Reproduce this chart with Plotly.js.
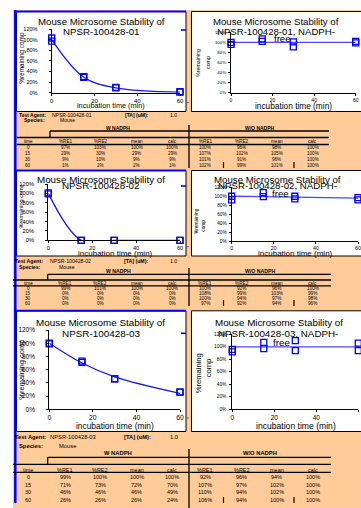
<!DOCTYPE html>
<html>
<head>
<meta charset="utf-8">
<script src="https://cdn.plot.ly/plotly-3.0.1.min.js"></script>
<style>html,body{margin:0;padding:0;background:#fff;}#chart{width:361px;height:508px;}</style>
</head>
<body>
<div id="chart"></div>
<script>
// ---------------- DATA ----------------
const times = [0, 15, 30, 60];
const agents = ["NPSR-100428-01", "NPSR-100428-02", "NPSR-100428-03"];
const speciesName = "Mouse";
const concText = "1.0";
const chartTitleLine = "Mouse Microsome Stability of";
const freeSuffix = ", NADPH-";
const freeWord = "free";
const xTitle = "incubation time (min)";
const yTitle = "%remaining comp";
const xTicks = [0, 20, 40, 60];
const yTicks = [0, 20, 40, 60, 80, 100, 120];
const yTickText = ["0%", "20%", "40%", "60%", "80%", "100%", "120%"];
const colHeaders = ["time", "%RE1", "%RE2", "mean", "calc", "%RE1", "%RE2", "mean", "calc"];
const groupW = "W NADPH";
const groupWO = "W/O NADPH";

// compound 01
const w01_re1 = [97, 29, 9, 1];
const w01_re2 = [103, 30, 10, 2];
const w01_mean = [100, 29, 9, 2];
const w01_calc = [100, 29, 9, 1];
const wo01_re1 = [100, 107, 101, 102];
const wo01_re2 = [96, 102, 91, 99];
const wo01_mean = [98, 105, 96, 101];
const wo01_calc = [100, 100, 100, 100];
// compound 02
const w02_re1 = [99, 0, 0, 0];
const w02_re2 = [101, 0, 0, 0];
const w02_mean = [100, 0, 0, 0];
const w02_calc = [100, 0, 0, 0];
const wo02_re1 = [100, 108, 100, 97];
const wo02_re2 = [92, 99, 94, 92];
const wo02_mean = [96, 103, 97, 94];
const wo02_calc = [100, 99, 98, 96];
// compound 03
const w03_re1 = [99, 71, 46, 26];
const w03_re2 = [100, 73, 46, 26];
const w03_mean = [100, 72, 46, 26];
const w03_calc = [100, 70, 49, 24];
const wo03_re1 = [92, 107, 110, 106];
const wo03_re2 = [96, 97, 94, 94];
const wo03_mean = [94, 102, 102, 100];
const wo03_calc = [100, 100, 100, 100];

// ---------------- LAYOUT HELPERS ----------------
const W = 361, H = 508;
const P = x => x / W;
const Q = y => 1 - y / H;
const FONT = "Liberation Sans, Arial, sans-serif";
const PEACH = "#FFCC99";
const BLUE = "#0000FF";

function ann(text, x, y, size, extra) {
  return Object.assign({
    text: text, x: P(x), y: Q(y), xref: "paper", yref: "paper",
    showarrow: false, xanchor: "center", yanchor: "middle",
    font: { family: FONT, size: size, color: "#000" }
  }, extra || {});
}
function line(x0, y0, x1, y1, color, width) {
  return { type: "line", xref: "paper", yref: "paper",
    x0: P(x0), y0: Q(y0), x1: P(x1), y1: Q(y1),
    line: { color: color, width: width }, layer: "above" };
}
function rect(x0, y0, x1, y1, fill, lc, lw, layer) {
  return { type: "rect", xref: "paper", yref: "paper",
    x0: P(x0), y0: Q(y0), x1: P(x1), y1: Q(y1),
    fillcolor: fill, line: { color: lc, width: lw }, layer: layer || "below" };
}

// chart specs: data reference + placement
const charts = [
  { re1: w01_re1, re2: w01_re2, fit: w01_calc, lc: "#1515ff",
    x0: 51.7, x60: 180, y0: 92.7, y120: 29, xfs: 6, yfs: 5.6, ystand: 10,
    titles: [[chartTitleLine, 101.7, 21.7], [agents[0], 100.8, 31]], tfs: 9.7,
    xt: [111.3, 106, 7.3], yt: [[yTitle, 21.7, 58]], ytfs: 6.4 },
  { re1: wo01_re1, re2: wo01_re2, fit: wo01_calc, lc: "#4848ff",
    x0: 231, x60: 355.7, y0: 92.7, y120: 32.3, xfs: 5, yfs: 4.4, ystand: 1,
    titles: [[chartTitleLine, 276.3, 21.7], [agents[0] + freeSuffix, 275.8, 31.3], [freeWord, 282.7, 38.3]], tfs: 9.6,
    xt: [293.3, 106, 8.3], yt: [["%remaining", 198, 63], ["comp", 208, 63]], ytfs: 5.3 },
  { re1: w02_re1, re2: w02_re2, fit: w02_calc, lc: "#1515ff",
    x0: 48.3, x60: 180, y0: 240.3, y120: 184, xfs: 5.6, yfs: 5.8, ystand: 10,
    titles: [[chartTitleLine, 100.5, 179], [agents[1], 100, 185.7]], tfs: 9.8,
    xt: [115, 253.3, 8.0], yt: [[yTitle, 20.7, 206.7]], ytfs: 5.5 },
  { re1: wo02_re1, re2: wo02_re2, fit: wo02_calc, lc: "#4848ff",
    x0: 231.7, x60: 358, y0: 241, y120: 187.3, xfs: 5.3, yfs: 4.8, ystand: 1,
    titles: [[chartTitleLine, 277.5, 179], [agents[1] + freeSuffix, 277, 185.7], [freeWord, 280, 193.3]], tfs: 9.7,
    xt: [295, 253.3, 8.0], yt: [["%remaining", 196, 221], ["comp", 202.7, 226]], ytfs: 4.8 },
  { re1: w03_re1, re2: w03_re2, fit: w03_calc, lc: "#1515ff",
    x0: 49.3, x60: 180, y0: 409.3, y120: 330, xfs: 6.8, yfs: 6.5, ystand: 10,
    titles: [[chartTitleLine, 100.5, 322.7], [agents[2], 100.8, 333.3]], tfs: 9.9,
    xt: [115, 425.7, 8.4], yt: [[yTitle, 20.7, 370]], ytfs: 7.5 },
  { re1: wo03_re1, re2: wo03_re2, fit: wo03_calc, lc: "#4848ff",
    x0: 232.3, x60: 358.3, y0: 409.3, y120: 334.3, xfs: 6.5, yfs: 4.8, ystand: 2,
    titles: [[chartTitleLine, 278.5, 322.7], [agents[2] + freeSuffix, 278, 333.3], [freeWord, 281.7, 342.7]], tfs: 9.8,
    xt: [296, 425.7, 8.6], yt: [["%remaining", 198.3, 373], ["comp", 208.3, 368]], ytfs: 7.6 }
];

const traces = [];
const layout = {
  width: W, height: H, margin: { l: 0, r: 0, t: 0, b: 0, pad: 0 },
  paper_bgcolor: "#ffffff", plot_bgcolor: "rgba(0,0,0,0)",
  showlegend: false, shapes: [], annotations: [],
  font: { family: FONT, color: "#000" }
};

// background panels
layout.shapes.push(rect(13, 10, 361, 508, PEACH, "rgba(0,0,0,0)", 0));
const panels = [
  [16.5, 11.5, 186, 111.5], [191.5, 11.5, 372, 111.5],
  [16.5, 170.5, 186, 256], [191.5, 170.5, 372, 256],
  [16.5, 310.8, 186, 431.5], [191.5, 310.8, 372, 431.5]
];
panels.forEach(p => layout.shapes.push(rect(p[0], p[1], p[2], p[3], "#ffffff", "#000000", 1)));

charts.forEach((c, i) => {
  const k = i + 1;
  const xa = k === 1 ? "x" : "x" + k;
  const ya = k === 1 ? "y" : "y" + k;
  traces.push({ x: times, y: c.fit, xaxis: xa, yaxis: ya, mode: "lines", type: "scatter",
    line: { color: c.lc, width: 1.3, shape: "spline", smoothing: 1 }, hoverinfo: "skip" });
  [c.re1, c.re2].forEach(arr => traces.push({ x: times, y: arr, xaxis: xa, yaxis: ya,
    mode: "markers", type: "scatter", cliponaxis: false,
    marker: { symbol: "square-open", size: 6, color: BLUE, line: { color: BLUE, width: 1.3 } },
    hoverinfo: "skip" }));
  layout["xaxis" + (k === 1 ? "" : k)] = {
    domain: [P(c.x0), P(c.x60)], range: [0, 60], anchor: ya,
    tickmode: "array", tickvals: xTicks, ticktext: xTicks.map(String),
    ticks: "outside", ticklen: 2, tickcolor: "#000", tickwidth: 1,
    showline: true, linecolor: "#000", linewidth: 1, showgrid: false, zeroline: false,
    tickfont: { family: FONT, size: c.xfs, color: "#000" }, fixedrange: true
  };
  layout["yaxis" + (k === 1 ? "" : k)] = {
    domain: [Q(c.y0), Q(c.y120)], range: [0, 120], anchor: xa,
    tickmode: "array", tickvals: yTicks, ticktext: yTickText,
    ticks: "outside", ticklen: 2, tickcolor: "#000", tickwidth: 1,
    showline: true, linecolor: "#000", linewidth: 1, showgrid: false, zeroline: false,
    ticklabelstandoff: c.ystand,
    tickfont: { family: FONT, size: c.yfs, color: "#000" }, fixedrange: true
  };
  c.titles.forEach(t => layout.annotations.push(ann(t[0], t[1], t[2], c.tfs)));
  layout.annotations.push(ann(xTitle, c.xt[0], c.xt[1], c.xt[2]));
  c.yt.forEach(t => layout.annotations.push(ann(t[0], t[1], t[2], c.ytfs, { textangle: -90 })));
});

// blue selection lines
layout.shapes.push(line(15.3, 10, 15.3, 503, BLUE, 2.5));
[11.5, 170.5, 310.8].forEach(y => layout.shapes.push(line(14, y, 186, y, BLUE, 2)));
[30, 186, 333.3].forEach(y => layout.shapes.push(line(181, y, 186, y, BLUE, 1.6)));
[102.5, 246.7, 418].forEach(y => layout.shapes.push(line(186.5, y, 189, y, "#555", 0.8)));

// tables
const tables = [
  { w: [w01_re1, w01_re2, w01_mean, w01_calc], wo: [wo01_re1, wo01_re2, wo01_mean, wo01_calc],
    agent: agents[0], yAgent: 115, ySpecies: 120.3, yGroup: 127.7, yHead: 141.5,
    rows: [147.7, 153.3, 159.3, 165.3], fsL: 5, fsV: 4.6, xLab: 16.7, xAgent: 50, xTA: 123, xConc: 168, xSp: 21.7, xMouse: 58.3,
    l1: 131, l2: 137.5, l3: 144.5, lx0: 50, lxs: 16.7, lx1: 329, dv: [125, 168], marks: [162, 168] },
  { w: [w02_re1, w02_re2, w02_mean, w02_calc], wo: [wo02_re1, wo02_re2, wo02_mean, wo02_calc],
    agent: agents[1], yAgent: 260.7, ySpecies: 266.5, yGroup: 271.3, yHead: 283.5,
    rows: [288.5, 293.8, 298.7, 303.7], fsL: 5.2, fsV: 4.7, xLab: 13.3, xAgent: 48.3, xTA: 121.7, xConc: 168, xSp: 16.7, xMouse: 56.7,
    l1: 274.3, l2: 280, l3: 285.8, lx0: 47.7, lxs: 13, lx1: 331, dv: [268, 306], marks: [300, 306] },
  { w: [w03_re1, w03_re2, w03_mean, w03_calc], wo: [wo03_re1, wo03_re2, wo03_mean, wo03_calc],
    agent: agents[2], yAgent: 437.3, ySpecies: 445.7, yGroup: 453.3, yHead: 470,
    rows: [477.3, 484.7, 492.3, 500], fsL: 5.8, fsV: 5.5, xLab: 13.3, xAgent: 48.3, xTA: 121.7, xConc: 168, xSp: 16.7, xMouse: 56.7,
    l1: 457.3, l2: 464.3, l3: 472.3, lx0: 47.7, lxs: 13, lx1: 331, dv: [449, 508], marks: [497, 503] }
];
const colX = [28.3, 65, 100, 136.7, 172.2, 205, 241.7, 276.7, 312.5];

tables.forEach(t => {
  const L = { xanchor: "left" };
  layout.annotations.push(ann("<b>Test Agent:</b>", t.xLab, t.yAgent, t.fsL, L));
  layout.annotations.push(ann(t.agent, t.xAgent, t.yAgent, t.fsL, L));
  layout.annotations.push(ann("<b>[TA] (uM):</b>", t.xTA, t.yAgent, t.fsL, L));
  layout.annotations.push(ann(concText, t.xConc, t.yAgent, t.fsL, L));
  layout.annotations.push(ann("<b>Species:</b>", t.xSp, t.ySpecies, t.fsL, L));
  layout.annotations.push(ann(speciesName, t.xMouse, t.ySpecies, t.fsL, L));
  layout.annotations.push(ann("<b>" + groupW + "</b>", 118.3, t.yGroup, t.fsL));
  layout.annotations.push(ann("<b>" + groupWO + "</b>", 260, t.yGroup, t.fsL));
  colHeaders.forEach((h, j) => layout.annotations.push(ann(h, colX[j], t.yHead, t.fsV)));
  times.forEach((tm, r) => {
    const vals = [String(tm)].concat(t.w.map(a => a[r] + "%"), t.wo.map(a => a[r] + "%"));
    vals.forEach((v, j) => layout.annotations.push(ann(v, colX[j], t.rows[r], t.fsV)));
  });
  layout.shapes.push(line(t.lx0, t.l1, t.lx1, t.l1, "#000", 1.3));
  layout.shapes.push(line(t.lx0, t.l1, t.lx0, t.l2, "#000", 1.3));
  layout.shapes.push(line(t.lxs, t.l2, t.lx1, t.l2, "#000", 1.3));
  layout.shapes.push(line(t.lxs, t.l3, t.lx1, t.l3, "#000", 1.3));
  layout.shapes.push(line(189, t.dv[0], 189, t.dv[1], "#000", 1.3));
  layout.shapes.push(line(223.5, t.marks[0], 223.5, t.marks[1], "#000", 1.2));
  layout.shapes.push(line(294, t.marks[0], 294, t.marks[1], "#000", 1.2));
});

Plotly.newPlot("chart", traces, layout, { staticPlot: true, displayModeBar: false });
</script>
</body>
</html>
